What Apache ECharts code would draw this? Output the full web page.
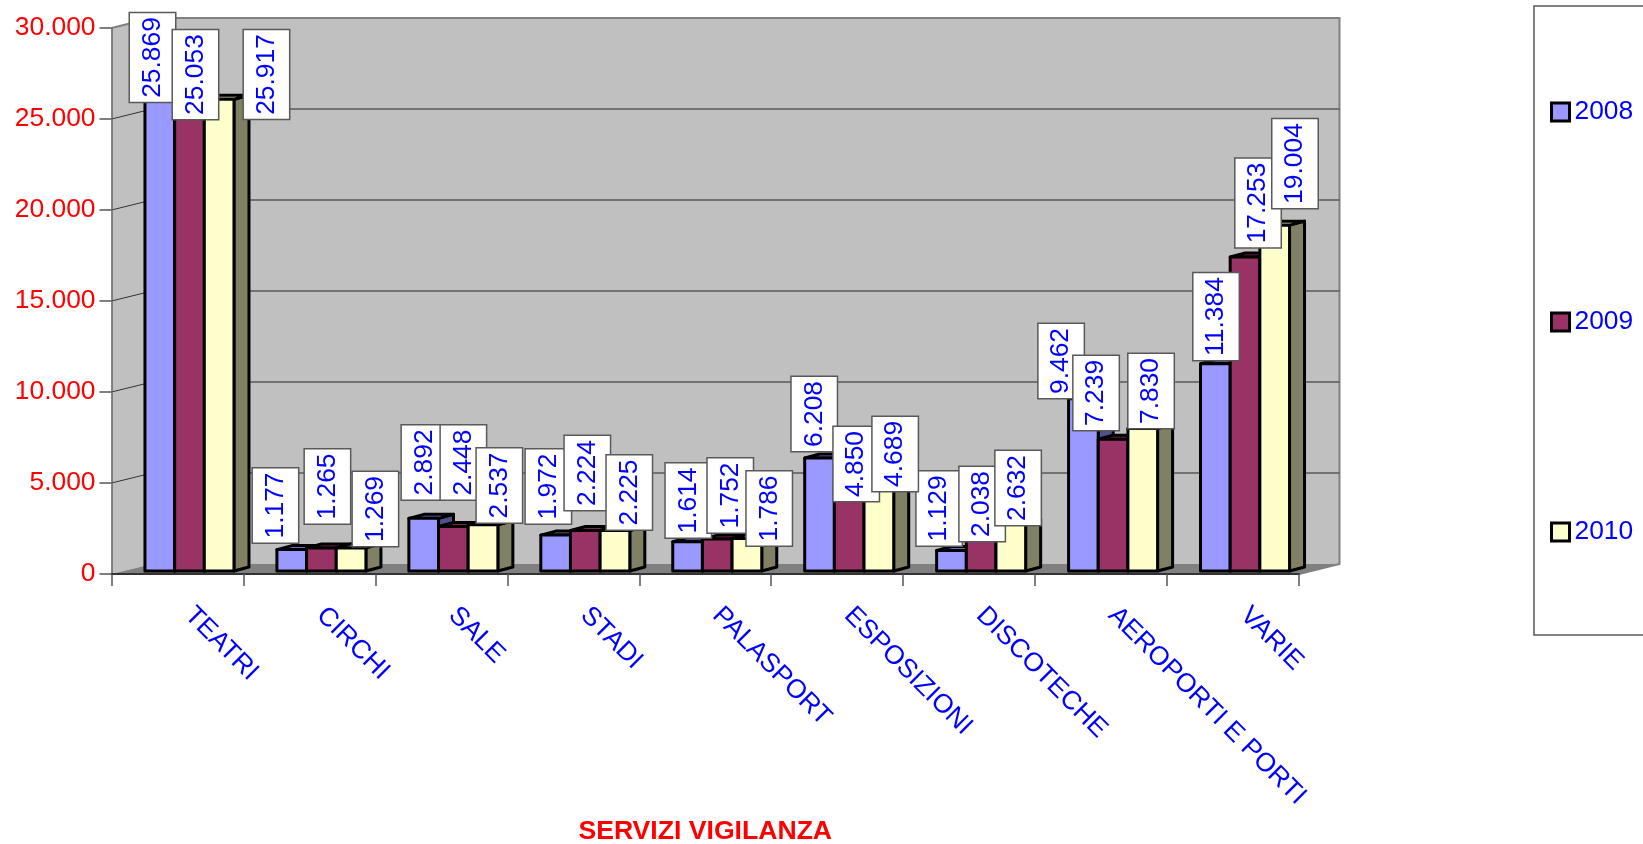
<!DOCTYPE html>
<html>
<head>
<meta charset="utf-8">
<style>html,body{margin:0;padding:0;background:#fff;overflow:hidden}#c{width:1643px;height:844px}</style>
<script src="https://cdn.jsdelivr.net/npm/echarts@6/dist/echarts.min.js"></script>
</head>
<body>
<div id="c"></div>
<script>
const categories = ['TEATRI','CIRCHI','SALE','STADI','PALASPORT','ESPOSIZIONI','DISCOTECHE','AEROPORTI E PORTI','VARIE'];
const years = ['2008','2009','2010'];
const values2008 = [25869,1177,2892,1972,1614,6208,1129,9462,11384];
const values2009 = [25053,1265,2448,2224,1752,4850,2038,7239,17253];
const values2010 = [25917,1269,2537,2225,1786,4689,2632,7830,19004];
const yTicks = [0,5000,10000,15000,20000,25000,30000];

// hand placement of each data-label box, relative to the top of its bar (px)
const labelShift2008 = [[-7.3,-42.7],[-16.3,-44.1],[0.7,-55.9],[-7.3,-48.6],[0.7,-41.1],[-5.3,-44],[-12.3,-42],[-22.3,-37.8],[0.7,-47.3]];
const labelShift2009 = [[6,-40.5],[6,-61.5],[10,-63.9],[2,-57.5],[13,-43.6],[7,-18.7],[1,-29.9],[-17,-46.3],[13,-54]];
const labelShift2010 = [[47.3,-24.8],[24.3,-38.9],[16.3,-39.3],[14.3,-38],[22.3,-30],[16.3,-31.7],[7.3,-35.1],[8.3,-37.5],[20.3,-61.6]];

const FONT = '"Liberation Sans", Arial, sans-serif';
const FS = 26.4;
const fmt = v => String(v).replace(/\B(?=(\d{3})+$)/g, '.');

// pseudo-3D geometry
const WALL_DX = 40.5, WALL_DY = -10;
const BAR_OFF_X = 12, BAR_OFF_Y = -3, BAR_DX = 15, BAR_DY = -4, BAR_W = 29.67;
const colors  = ['#9999FF','#993366','#FFFFCC'];
const tops    = ['#6b6bb8','#7a2952','#c8c8a0'];
const sides   = ['#50508a','#4d1a33','#808064'];

function barPos(api, j, cat, val){
  const p = api.coord([cat, val]);
  const cx = p[0] + BAR_OFF_X + (j - 1) * BAR_W;
  return {x0: cx - BAR_W/2, x1: cx + BAR_W/2, cx, yt: p[1] + BAR_OFF_Y, yb: api.coord([cat, 0])[1] + BAR_OFF_Y};
}

function wallItem(params){
  const c = params.coordSys;
  const xl = c.x, xr = c.x + c.width, yt = c.y, yb = c.y + c.height;
  const bl = xl + WALL_DX, br = xr + WALL_DX;
  const fill = pts => ({type:'polygon', shape:{points:pts}, style:{fill:'#C0C0C0', stroke:null}});
  return {type:'group', children:[
    fill([[xl,yt],[bl,yt+WALL_DY],[bl,yb+WALL_DY],[xl,yb]]),
    fill([[bl,yt+WALL_DY],[br,yt+WALL_DY],[br,yb+WALL_DY],[bl,yb+WALL_DY]]),
    {type:'polygon', shape:{points:[[xl,yb],[xr,yb],[br,yb+WALL_DY],[bl,yb+WALL_DY]]}, style:{fill:'#808080', stroke:null}},
    {type:'polyline', shape:{points:[[xl,yt],[bl,yt+WALL_DY],[br,yt+WALL_DY],[br,yb+WALL_DY],[xr,yb]]}, style:{fill:null, stroke:'#808080', lineWidth:2}}
  ]};
}

function gridItem(params, api){
  const v = api.value(0);
  if (v === 0 || v === 30000) return null;
  const c = params.coordSys;
  const y = api.coord([0, v])[1];
  const xl = c.x, bl = xl + WALL_DX, br = c.x + c.width + WALL_DX;
  return {type:'group', children:[
    {type:'line', shape:{x1:xl,y1:y,x2:bl,y2:y+WALL_DY}, style:{stroke:'#333', lineWidth:1}},
    {type:'line', shape:{x1:bl,y1:y+WALL_DY,x2:br,y2:y+WALL_DY}, style:{stroke:'#595959', lineWidth:1.5}}
  ]};
}

function barRenderer(j){
  return function(params, api){
    const b = barPos(api, j, api.value(0), api.value(1));
    const line = {stroke:'#000', lineWidth:3, lineJoin:'round'};
    return {type:'group', children:[
      {type:'polygon', shape:{points:[[b.x1,b.yt],[b.x1+BAR_DX,b.yt+BAR_DY],[b.x1+BAR_DX,b.yb+BAR_DY],[b.x1,b.yb]]}, style:Object.assign({fill:sides[j]},line)},
      {type:'polygon', shape:{points:[[b.x0,b.yt],[b.x1,b.yt],[b.x1+BAR_DX,b.yt+BAR_DY],[b.x0+BAR_DX,b.yt+BAR_DY]]}, style:Object.assign({fill:tops[j]},line)},
      {type:'rect', shape:{x:b.x0,y:b.yt,width:BAR_W,height:b.yb-b.yt}, style:Object.assign({fill:colors[j]},line)}
    ]};
  };
}

function labelRenderer(j, shifts){
  return function(params, api){
    const cat = api.value(0), val = api.value(1);
    const b = barPos(api, j, cat, val);
    const s = shifts[params.dataIndex];
    return {type:'text', x:b.cx + s[0], y:b.yt + s[1], rotation:Math.PI/2,
      style:{text:fmt(val), fill:'#0000FF', font:FS+'px '+FONT, align:'center', verticalAlign:'middle',
        backgroundColor:'#fff', borderColor:'#595959', borderWidth:1.5, padding:[0,4], lineHeight:45}};
  };
}

const rows = arr => arr.map((v,i) => [i,v]);
const allValues = [values2008, values2009, values2010];
const allShifts = [labelShift2008, labelShift2009, labelShift2010];

const series = [
  {type:'custom', name:'wall', silent:true, z:1, coordinateSystem:'cartesian2d', data:[[0,0]], renderItem:wallItem, encode:{x:0,y:1}},
  {type:'custom', name:'grid', silent:true, z:1, coordinateSystem:'cartesian2d', data:yTicks.map(v=>[v]), renderItem:gridItem, encode:{y:0}}
];
years.forEach((y,j) => series.push({type:'custom', name:y, silent:true, z:3, coordinateSystem:'cartesian2d',
  itemStyle:{color:colors[j]}, data:rows(allValues[j]), renderItem:barRenderer(j), encode:{x:0,y:1}}));
years.forEach((y,j) => series.push({type:'custom', name:'labels '+y, silent:true, z:4+j, coordinateSystem:'cartesian2d',
  data:rows(allValues[j]), renderItem:labelRenderer(j, allShifts[j]), encode:{x:0,y:1}}));

const chart = echarts.init(document.getElementById('c'), null, {renderer:'canvas'});
chart.setOption({
  animation:false,
  backgroundColor:'#fff',
  textStyle:{fontFamily:FONT},
  grid:{left:111.5, top:28, width:1187.5, height:546, containLabel:false, outerBoundsMode:'none'},
  xAxis:{type:'category', data:categories, z:2,
    name:'SERVIZI VIGILANZA', nameLocation:'middle', nameGap:244,
    nameTextStyle:{color:'#FF0000', fontSize:26.6, fontWeight:'bold', fontFamily:FONT},
    axisLine:{show:true, lineStyle:{color:'#333', width:2}},
    axisTick:{show:true, alignWithLabel:false, length:12, lineStyle:{color:'#555', width:1.5}},
    axisLabel:{interval:0, rotate:-45, margin:26, padding:[0,0,0,16], color:'#0000FF', fontSize:FS, fontFamily:FONT},
    splitLine:{show:false}},
  yAxis:{type:'value', min:0, max:30000, interval:5000, z:2,
    axisLine:{show:true, lineStyle:{color:'#666', width:1.5}},
    axisTick:{show:true, length:12, lineStyle:{color:'#555', width:1.5}},
    axisLabel:{margin:16, padding:[2,0,0,0], color:'#FF0000', fontSize:FS, fontFamily:FONT, formatter:v=>fmt(v)},
    splitLine:{show:false}},
  legend:{orient:'vertical', left:1534, top:6, selectedMode:false,
    padding:[93,200,90,16], backgroundColor:'#fff', borderColor:'#595959', borderWidth:1.5,
    itemWidth:18, itemHeight:18, itemGap:184,
    textStyle:{color:'#0000FF', fontSize:FS, fontFamily:FONT, padding:[0,0,0,0]},
    data:years.map((y,j)=>({name:y, icon:'rect', itemStyle:{color:colors[j], borderColor:'#000', borderWidth:3}}))},
  series
});
</script>
</body>
</html>
